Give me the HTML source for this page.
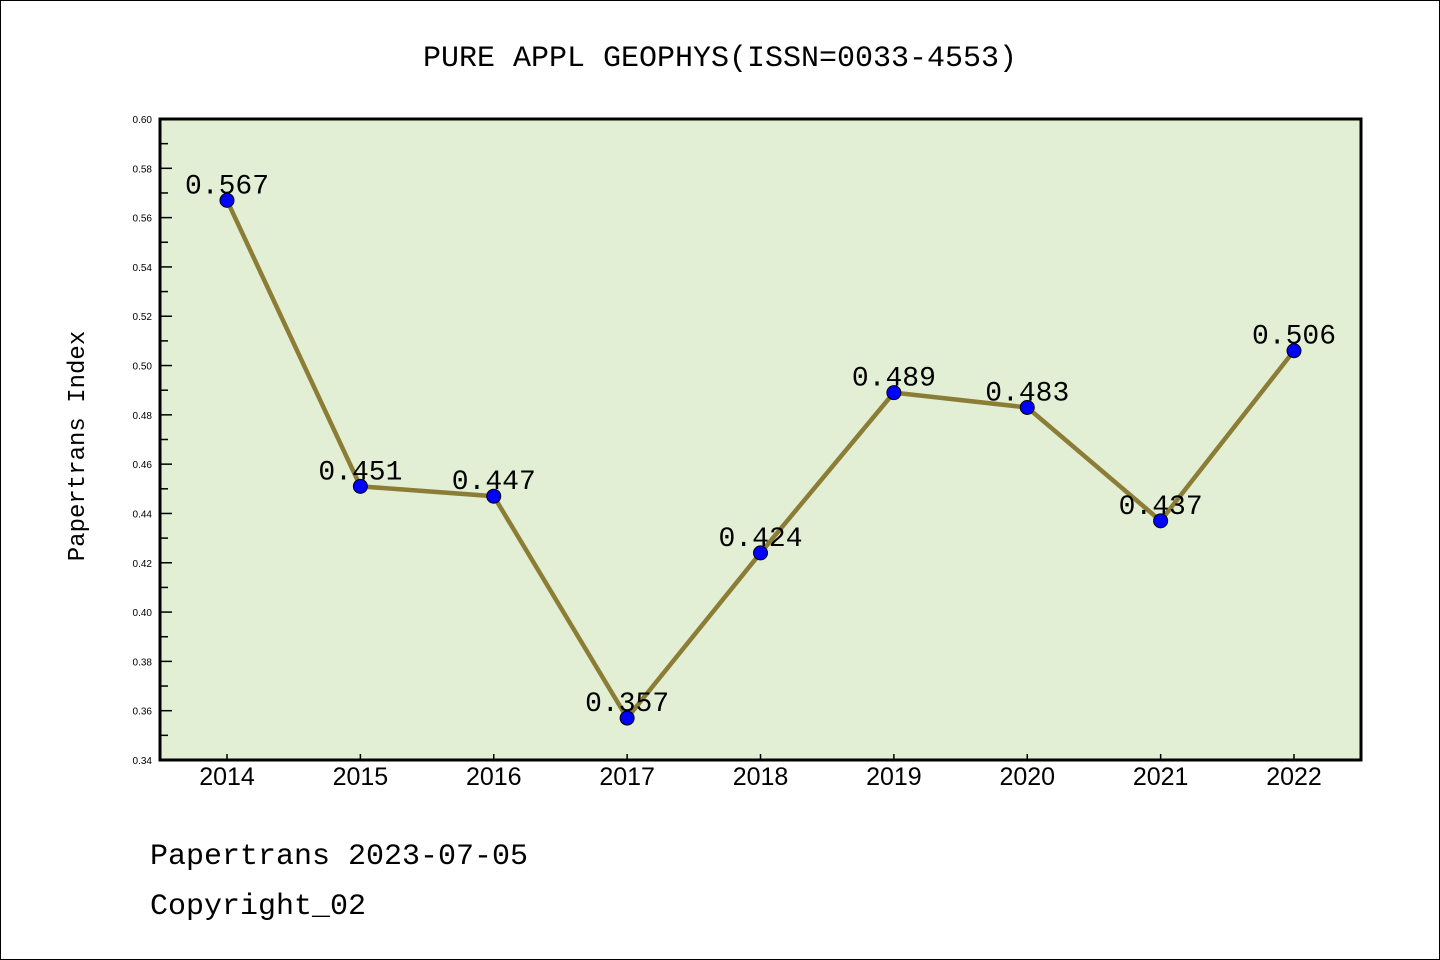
<!DOCTYPE html>
<html><head><meta charset="utf-8"><style>
html,body{margin:0;padding:0;background:#fff}
svg{display:block}
text{font-family:"Liberation Mono","DejaVu Sans Mono",monospace}
text.sans{font-family:"Liberation Sans","DejaVu Sans",sans-serif}
</style></head><body>
<svg id="chart" width="1440" height="960">
<rect x="0.5" y="0.5" width="1439" height="959" fill="#fff" stroke="#000"/>
<text x="720" y="66" text-anchor="middle" font-size="30">PURE APPL GEOPHYS(ISSN=0033-4553)</text>
<rect x="160" y="119" width="1201" height="641" fill="#e2efd5"/>
<g id="yaxis"></g>
<g id="xaxis"></g>
<g id="series"></g>
<rect x="160" y="119" width="1201" height="641" fill="none" stroke="#000" stroke-width="3"/>
<text transform="translate(84,446) rotate(-90)" text-anchor="middle" font-size="24">Papertrans Index</text>
<text x="150" y="864" font-size="30">Papertrans 2023-07-05</text>
<text x="150" y="914" font-size="30">Copyright_02</text>
</svg>
<script>
const years = ['2014','2015','2016','2017','2018','2019','2020','2021','2022'];
const values = [0.567,0.451,0.447,0.357,0.424,0.489,0.483,0.437,0.506];
const yTicks = [0.34,0.36,0.38,0.40,0.42,0.44,0.46,0.48,0.50,0.52,0.54,0.56,0.58,0.60];
const NS='http://www.w3.org/2000/svg';
const x0=227, dx=133.375;
function xs(i){return x0+i*dx;}
function ys(v){return 760-(v-0.34)/0.26*641;}
function mk(tag,attrs,parent){const e=document.createElementNS(NS,tag);for(const k in attrs)e.setAttribute(k,attrs[k]);parent.appendChild(e);return e;}
const ya=document.getElementById('yaxis'), xa=document.getElementById('xaxis'), se=document.getElementById('series');
yTicks.forEach((t,i)=>{
  const y=ys(t);
  const l=mk('line',{x1:160,x2:172,y1:y,y2:y,stroke:'#000','stroke-width':1.5},ya);
  
  
  const tx=mk('text',{x:152,y:y+4,'text-anchor':'end','class':'sans',style:'font-size:10px'},ya);
  tx.textContent=t.toFixed(2);
  
  
  if(i<yTicks.length-1){
    const ym=ys(t+0.01);
    const m=mk('line',{x1:160,x2:168,y1:ym,y2:ym,stroke:'#000','stroke-width':1.5},ya);
    
    
  }
});
years.forEach((yr,i)=>{
  const x=xs(i);
  const l=mk('line',{x1:x,x2:x,y1:760,y2:754,stroke:'#000','stroke-width':1.5},xa);
  
  
  const tx=mk('text',{x:x,y:785,'text-anchor':'middle','class':'sans',style:'font-size:25px'},xa);
  tx.textContent=yr;
  
  
});
const pts=values.map((v,i)=>xs(i)+','+ys(v)).join(' ');
const pl=mk('polyline',{points:pts,fill:'none',stroke:'#8b7d36','stroke-width':4.5},se);


values.forEach((v,i)=>{
  const c=mk('circle',{cx:xs(i),cy:ys(v),r:7,fill:'#0000ff',stroke:'#000','stroke-width':1},se);
  
  
  const t=mk('text',{x:xs(i),y:ys(v)-7,'text-anchor':'middle',style:'font-size:28px'},se);
  t.textContent=v.toFixed(3);
  
  
});
</script>
</body></html>
